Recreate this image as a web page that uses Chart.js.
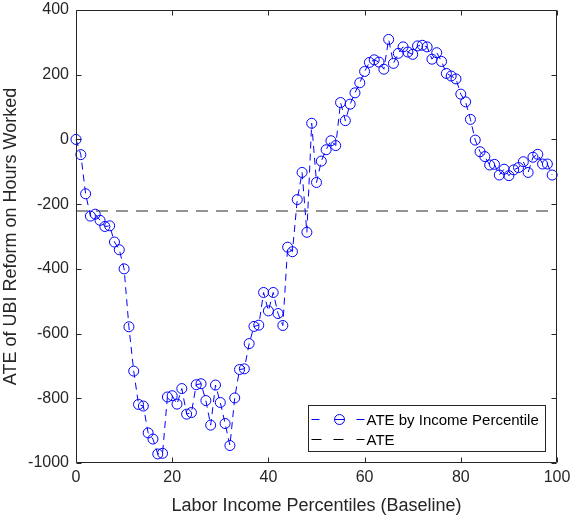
<!DOCTYPE html>
<html>
<head>
<meta charset="utf-8">
<script src="https://cdn.jsdelivr.net/npm/chart.js@4/dist/chart.umd.min.js"></script>
<style>
  html, body { margin: 0; padding: 0; background: #ffffff; }
  #c { display: block; }
</style>
</head>
<body>
<canvas id="c" width="570" height="517"></canvas>
<script>
// Labor income percentiles at baseline (0 .. 99)
const percentiles = Array.from({ length: 100 }, (_, i) => i);

// Average treatment effect of the UBI reform on hours worked, per percentile
const ateByPercentile = [
     0,  -47, -168, -237, -231, -250, -269, -267, -317, -341,
  -400, -579, -716, -819, -824, -907, -926, -972, -970, -796,
  -792, -818, -770, -849, -844, -758, -755, -807, -883, -759,
  -813, -878, -946, -799, -711, -709, -631, -578, -574, -473,
  -530, -473, -538, -575, -333, -347, -186, -102, -287,   50,
  -133,  -67,  -32,   -4,  -19,  114,   58,  109,  144,  175,
   210,  238,  246,  239,  217,  309,  235,  266,  286,  270,
   263,  289,  291,  286,  248,  268,  241,  204,  196,  187,
   140,  116,   62,   -2,  -38,  -53,  -79,  -77, -110,  -92,
  -112,  -94,  -87,  -69, -102,  -55,  -46,  -76,  -76, -110
];

// Overall average treatment effect
const ateOverall = -221;

const xRange = [0, 100];
const yRange = [-1000, 400];
const xStep = 20;
const yStep = 200;

const seriesLabel = 'ATE by Income Percentile';
const overallLabel = 'ATE';
const xTitle = 'Labor Income Percentiles (Baseline)';
const yTitle = 'ATE of UBI Reform on Hours Worked';

const FONT = '"Liberation Sans", Arial, Helvetica, sans-serif';
const AXIS_COLOR = '#262626';
const BLUE = '#0000ff';

// Box around the plot area with inward tick marks on all four sides
const frameTicks = {
  id: 'frameTicks',
  afterDatasetsDraw(chart) {
    const { ctx, chartArea: a, scales: { x, y } } = chart;
    const L = Math.round(a.left) + 0.5, R = Math.round(a.right) - 0.5;
    const T = Math.round(a.top) + 0.5, B = Math.round(a.bottom) - 0.5;
    const len = 5;
    ctx.save();
    ctx.strokeStyle = AXIS_COLOR;
    ctx.lineWidth = 1;
    ctx.beginPath();
    ctx.rect(L, T, R - L, B - T);
    x.ticks.forEach(t => {
      const px = Math.round(x.getPixelForValue(t.value)) + 0.5;
      ctx.moveTo(px, B); ctx.lineTo(px, B - len);
      ctx.moveTo(px, T); ctx.lineTo(px, T + len);
    });
    y.ticks.forEach(t => {
      const py = Math.round(y.getPixelForValue(t.value)) + 0.5;
      ctx.moveTo(L, py); ctx.lineTo(L + len, py);
      ctx.moveTo(R, py); ctx.lineTo(R - len, py);
    });
    ctx.stroke();
    ctx.restore();
  }
};

// Boxed legend in the lower right of the plot area
const boxLegend = {
  id: 'boxLegend',
  afterDraw(chart) {
    const { ctx, chartArea: a } = chart;
    const w = 237, h = 46;
    const bx = Math.round(a.right) - 12 - w + 0.5;
    const by = Math.round(a.bottom) - 12 - h + 0.5;
    ctx.save();
    ctx.fillStyle = '#ffffff';
    ctx.fillRect(bx, by, w, h);
    ctx.strokeStyle = AXIS_COLOR;
    ctx.lineWidth = 1;
    ctx.strokeRect(bx, by, w, h);

    const sx = bx + 3;
    const rows = chart.data.datasets.map(ds => ds.label);
    const rowY = [Math.round(by + 13) + 0.5, Math.round(by + 33) + 0.5];
    const seg = (x0, x1, yy) => { ctx.moveTo(x0, yy); ctx.lineTo(x1, yy); };

    // first row: dashed blue line with a circle marker
    ctx.strokeStyle = BLUE;
    ctx.beginPath();
    seg(sx, sx + 8, rowY[0]);
    seg(sx + 23, sx + 33, rowY[0]);
    seg(sx + 45, sx + 53, rowY[0]);
    ctx.stroke();
    ctx.beginPath();
    ctx.arc(sx + 28, rowY[0], 5, 0, Math.PI * 2);
    ctx.stroke();

    // second row: dashed black line
    ctx.strokeStyle = '#000000';
    ctx.beginPath();
    seg(sx, sx + 10, rowY[1]);
    seg(sx + 22, sx + 32, rowY[1]);
    seg(sx + 45, sx + 53, rowY[1]);
    ctx.stroke();

    ctx.fillStyle = '#000000';
    ctx.font = '15px ' + FONT;
    ctx.textBaseline = 'middle';
    ctx.textAlign = 'left';
    rows.forEach((txt, i) => ctx.fillText(txt, sx + 55, rowY[i] + 1));
    ctx.restore();
  }
};

new Chart(document.getElementById('c'), {
  type: 'line',
  data: {
    datasets: [
      {
        label: seriesLabel,
        data: percentiles.map((p, i) => ({ x: p, y: ateByPercentile[i] })),
        borderColor: BLUE,
        borderWidth: 1,
        borderDash: [7, 5],
        pointStyle: 'circle',
        pointRadius: 5,
        pointBorderWidth: 1,
        pointBorderColor: BLUE,
        pointBackgroundColor: 'rgba(0,0,0,0)',
        pointHoverRadius: 5,
        tension: 0,
        fill: false,
        clip: false
      },
      {
        label: overallLabel,
        data: [{ x: xRange[0], y: ateOverall }, { x: xRange[1], y: ateOverall }],
        borderColor: '#707070',
        borderWidth: 1.5,
        borderDash: [12, 8],
        pointRadius: 0,
        fill: false
      }
    ]
  },
  options: {
    responsive: false,
    animation: false,
    devicePixelRatio: 1,
    layout: { padding: { top: 10, right: 13, left: 0, bottom: 0 } },
    plugins: {
      legend: { display: false },
      tooltip: { enabled: false }
    },
    scales: {
      x: {
        type: 'linear',
        min: xRange[0],
        max: xRange[1],
        afterFit: s => {
          s.height = 54;
          s.paddingLeft = 0; s.paddingRight = 0;
        },
        grid: { display: false, drawTicks: false },
        border: { display: false },
        ticks: {
          stepSize: xStep,
          padding: 5,
          color: AXIS_COLOR,
          font: { family: FONT, size: 16 },
          maxRotation: 0,
          callback: v => String(v)
        },
        title: {
          display: true,
          text: xTitle,
          color: AXIS_COLOR,
          font: { family: FONT, size: 18 },
          padding: { top: 0, bottom: 0 }
        }
      },
      y: {
        type: 'linear',
        min: yRange[0],
        max: yRange[1],
        afterFit: s => {
          s.width = 76;
          s.paddingTop = 0; s.paddingBottom = 0;
        },
        grid: { display: false, drawTicks: false },
        border: { display: false },
        ticks: {
          stepSize: yStep,
          padding: 7,
          color: AXIS_COLOR,
          font: { family: FONT, size: 16 },
          callback: v => String(v)
        },
        title: {
          display: true,
          text: yTitle,
          color: AXIS_COLOR,
          font: { family: FONT, size: 18 },
          padding: { top: 0, bottom: 0 }
        }
      }
    }
  },
  plugins: [frameTicks, boxLegend]
});
</script>
</body>
</html>
